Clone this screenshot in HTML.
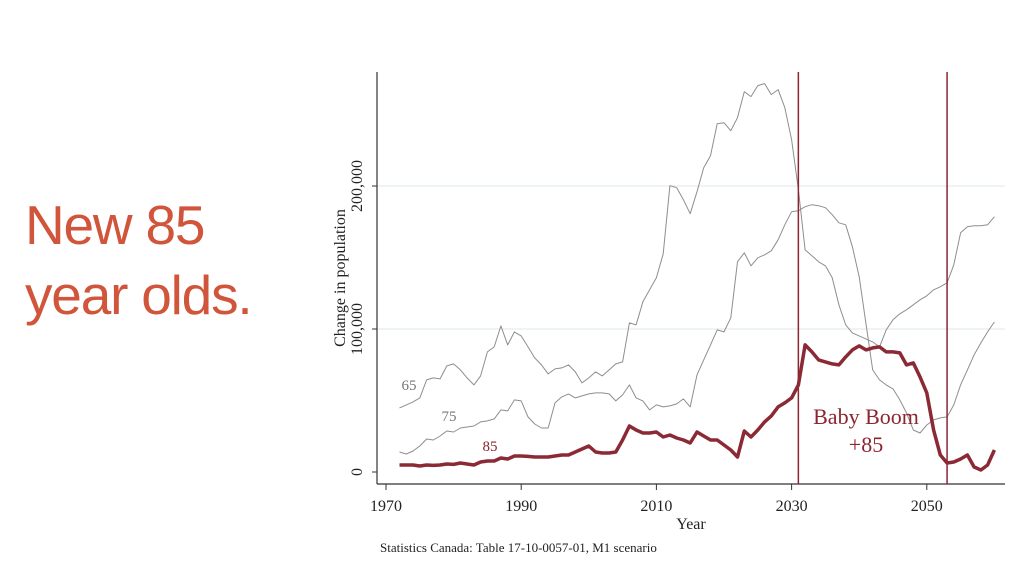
<!DOCTYPE html>
<html><head><meta charset="utf-8"><style>
body{margin:0;background:#fff;width:1024px;height:576px;overflow:hidden;font-family:"Liberation Serif",serif}
#title{position:absolute;left:25px;top:190px;font-family:"Liberation Sans",sans-serif;font-size:55px;line-height:70px;color:#d0553a;letter-spacing:-1.2px}
svg{position:absolute;left:0;top:0}
</style></head><body>
<div id="title">New 85<br>year olds.</div>
<svg id="chart" width="1024" height="576"></svg>
<script>
const startYear = 1972;
const yTicks = [0, 100, 200];
const yTickLabels = ["0", "100,000", "200,000"];
const xTicks = [1970, 1990, 2010, 2030, 2050];
const markerYears = [2031, 2053];
const age65 = [44.8,46.9,49,51.8,64.4,65.8,65.1,74.2,75.6,71.4,65.8,60.9,67.2,84,87.5,102.2,88.9,98,95.2,87.5,79.8,74.9,68.6,72.1,72.8,74.9,70,62.3,65.8,70,67.2,71.4,75.6,77,104.3,102.9,119,127.4,135.8,152.6,200.2,198.8,190.4,180.6,196,212.8,221.2,243.6,244.3,238.7,247.8,266,262.5,270.2,271.6,263.9,267.4,254.8,232.4,197.4,155.4,151.2,147,144.2,135.8,116.9,102.9,97.3,95.2,93.1,91,87.5,99.4,106.4,110.6,113.4,116.9,120.4,123.2,127.4,129.5,132.3,144.9,167.3,171.5,172.2,172.2,172.9,178.5];
const age75 = [14,12.6,14.7,18.2,23.1,22.4,25.2,28.7,28,30.8,31.5,32.2,35,35.7,37.1,43.4,42.7,50.4,49.7,38.5,33.6,30.8,30.8,48.3,52.5,54.6,51.8,53.2,54.6,55.3,55.3,54.6,49.7,53.9,60.9,51.8,49.7,43.4,46.9,45.5,46.2,47.6,51.1,45.5,67.9,78.4,88.9,99.4,98,107.8,147,153.3,144.2,149.8,151.9,154.7,162.4,172.9,182,182.7,185.5,186.9,186.2,184.8,179.9,174.3,172.9,157.5,136.5,103.6,71.4,64.4,60.9,58.1,50.4,41.3,29.4,27.3,32.9,36.4,37.8,38.5,46.9,60.9,71.4,81.9,90.3,98,105];
const age85 = [4.9,4.9,4.9,4.2,4.9,4.6,4.9,5.6,5.3,6.3,5.6,4.9,7,7.7,7.7,9.8,9.1,11.2,11.2,10.9,10.5,10.5,10.5,11.2,11.9,11.9,14,16.1,18.2,14,13.3,13.3,14,22.4,32.2,29.4,27.3,27.3,28,24.5,25.9,23.8,22.4,20.3,28,25.2,22.4,22.4,18.9,15.4,10.5,28.7,24.5,29.4,35,39.2,45.5,48.3,51.8,60.9,88.9,84,78.4,77,75.6,74.9,80.5,85.4,88.2,85.4,86.8,87.5,84,84,83.3,74.9,76.3,66.5,55.3,29.4,11.9,6.3,7,9.1,11.9,3.5,1.4,4.9,15.4];

const NS="http://www.w3.org/2000/svg";
const svg=document.getElementById('chart');
const X=yr=>386+(yr-1970)*6.76;
const Y=v=>472-v*1.43;
function mk(tag,attrs,parent){const e=document.createElementNS(NS,tag);for(const k in attrs)e.setAttribute(k,attrs[k]);(parent||svg).appendChild(e);return e;}

yTicks.forEach((t,i)=>{
  if(t>0){const g=mk('line',{x1:378,x2:1005,y1:Y(t),y2:Y(t),stroke:'#e4ecef','stroke-width':1.2});
  
  }
  const tk=mk('line',{x1:372,x2:377,y1:Y(t),y2:Y(t),stroke:'#333','stroke-width':1});
  
  
  const lb=mk('text',{x:0,y:0,transform:`translate(362,${Y(t)}) rotate(-90)`,'text-anchor':'middle','font-size':16,fill:'#222'});
  lb.textContent=yTickLabels[i];
  
  
});
const ya=mk('line',{x1:377,x2:377,y1:72,y2:484,stroke:'#333','stroke-width':1.2});


const xa=mk('line',{x1:377,x2:1005,y1:484,y2:484,stroke:'#333','stroke-width':1.2});


xTicks.forEach(t=>{
  const tk=mk('line',{x1:X(t),x2:X(t),y1:484,y2:490,stroke:'#333','stroke-width':1});
  
  
  const lb=mk('text',{x:X(t),y:511,'text-anchor':'middle','font-size':16,fill:'#222'});
  lb.textContent=t;
  
  
});
const yt=mk('text',{x:0,y:0,transform:'translate(345,278) rotate(-90)','text-anchor':'middle','font-size':16,fill:'#222'});
yt.textContent='Change in population';


const xt=mk('text',{x:691,y:529,'text-anchor':'middle','font-size':16,fill:'#222'});
xt.textContent='Year';


const src=mk('text',{x:380,y:552,'font-size':13,fill:'#222'});
src.textContent='Statistics Canada: Table 17-10-0057-01, M1 scenario';



function series(vals,color,w,name){
  const d=vals.map((v,i)=>(i?'L':'M')+X(startYear+i).toFixed(1)+','+Y(v).toFixed(1)).join('');
  const p=mk('path',{d:d,fill:'none',stroke:color,'stroke-width':w,'stroke-linejoin':'round'});
  
  
}
series(age65,'#8e8e8e',1,'series-age-65');
series(age75,'#8e8e8e',1,'series-age-75');
markerYears.forEach(yr=>{
  const l=mk('line',{x1:X(yr),x2:X(yr),y1:72,y2:484,stroke:'#8b2530','stroke-width':1.5});
  
  
});
series(age85,'#8b2a35',3.5,'series-age-85');

function label(txt,x,y,col,size,name){const t=mk('text',{x:x,y:y,'font-size':size,fill:col,'text-anchor':'middle'});t.textContent=txt;
  
  }
label('65',409,390,'#777',15,'label-65');
label('75',449,421,'#777',15,'label-75');
label('85',490,451,'#8b2530',15,'label-85');
label('Baby Boom',866,424,'#8b2530',22,'baby-boom-label');
label('+85',866,452,'#8b2530',22,'baby-boom-label-85');
</script>
</body></html>
